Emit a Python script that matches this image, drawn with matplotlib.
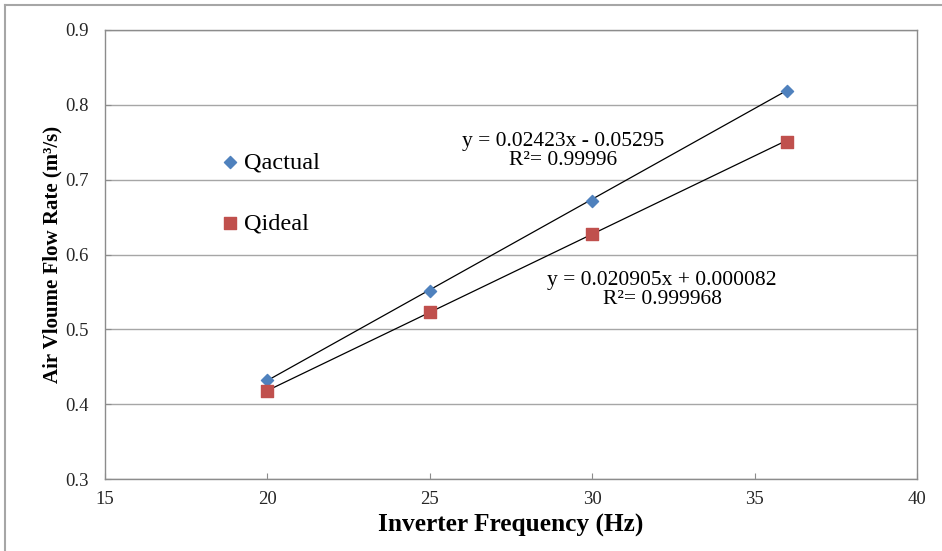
import matplotlib.pyplot as plt
import numpy as np
from matplotlib.lines import Line2D

# frequências do inversor (Hz) e vazões medidas (m3/s)
freq = [20, 25, 30, 36]
q_actual = [0.432, 0.551, 0.672, 0.819]
q_ideal = [0.418, 0.523, 0.627, 0.751]

# coeficientes das linhas de tendência (a*x + b)
fit_actual = (0.02423, -0.05295)
fit_ideal = (0.020905, 0.000082)
eq_actual = 'y = 0.02423x - 0.05295\nR²= 0.99996'
eq_ideal = 'y = 0.020905x + 0.000082\nR²= 0.999968'

plt.rcParams['font.family'] = ['Liberation Serif', 'DejaVu Serif']

fig = plt.figure(figsize=(9.42, 5.51), dpi=100)
ax = fig.add_axes([105 / 942, 1 - 479 / 551, 812 / 942, 449 / 551])

# borda externa (só esquerda e topo)
fig.add_artist(Line2D([4.5 / 942, 4.5 / 942], [0, 1 - 4.5 / 551], color='#a6a6a6', lw=1.5))
fig.add_artist(Line2D([4.5 / 942, 1], [1 - 4.5 / 551, 1 - 4.5 / 551], color='#a6a6a6', lw=1.5))

# linhas de tendência
xs = np.array([freq[0], freq[-1]])
ax.plot(xs, fit_actual[0] * xs + fit_actual[1], color='black', lw=0.9, zorder=2)
ax.plot(xs, fit_ideal[0] * xs + fit_ideal[1], color='black', lw=0.9, zorder=2)

ax.scatter(freq, q_actual, marker='D', s=38, color='#4f81bd', zorder=3, label='Qactual')
ax.scatter(freq, q_ideal, marker='s', s=70, color='#c0504d', zorder=3, label='Qideal')

ax.text(29.1, 0.738, eq_actual, ha='center', va='center', fontsize=15.5, linespacing=1.0)
ax.text(32.15, 0.552, eq_ideal, ha='center', va='center', fontsize=15.5, linespacing=1.0)

ax.set_xlim(15, 40)
ax.set_ylim(0.3, 0.9)
ax.set_xticks([15, 20, 25, 30, 35, 40])
ax.set_yticks([0.3, 0.4, 0.5, 0.6, 0.7, 0.8, 0.9])
ax.set_yticklabels(['0.3', '0.4', '0.5', '0.6', '0.7', '0.8', '0.9'])
ax.grid(axis='y', color='#a6a6a6', lw=1.0)
ax.set_axisbelow(True)
for s in ax.spines.values():
    s.set_color('#8c8c8c')
    s.set_linewidth(1.0)
ax.tick_params(axis='x', direction='in', length=4, color='#8c8c8c', labelcolor='#262626',
               labelsize=13.5, pad=9)
ax.tick_params(axis='y', direction='in', length=4, color='#8c8c8c', labelcolor='#262626',
               labelsize=13.5, pad=12)

ax.set_xlabel('Inverter Frequency (Hz)', fontsize=18.3, fontweight='bold', labelpad=4)
ax.set_ylabel('Air Vloume Flow Rate (m³/s)', fontsize=15, fontweight='bold', labelpad=2)

ax.legend(loc='center left', bbox_to_anchor=(0.14, 0.637), frameon=False, fontsize=17.5,
          labelspacing=1.58, handletextpad=0.15, borderaxespad=0, handlelength=0.9,
          borderpad=0)

fig.savefig('out.png', dpi=100)
